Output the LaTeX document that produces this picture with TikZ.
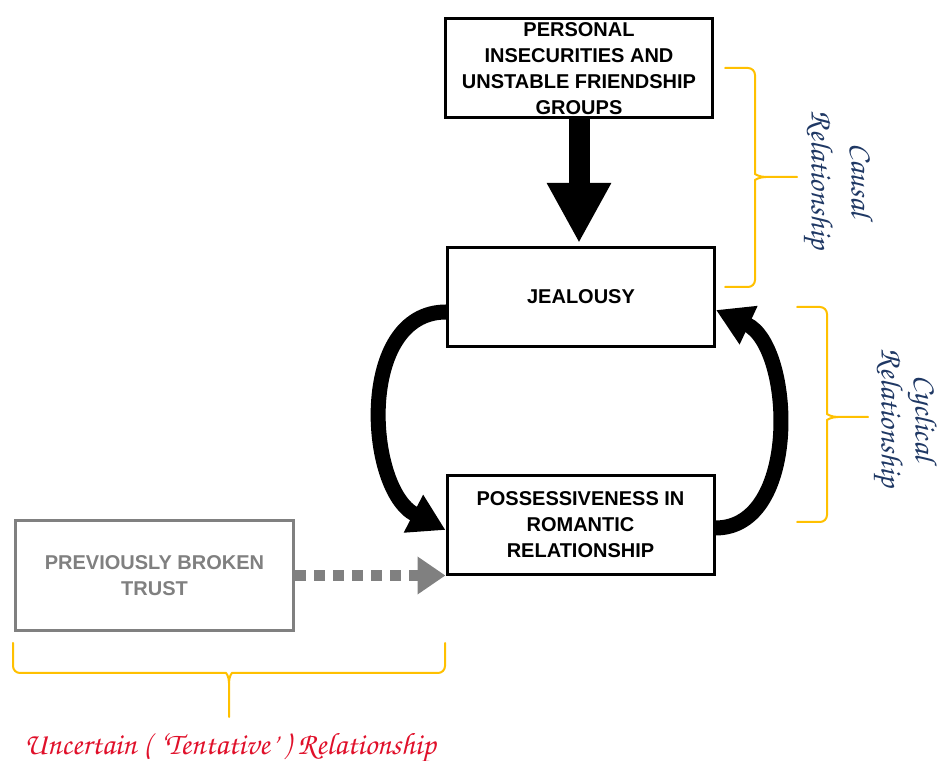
\documentclass[tikz,border=0pt]{standalone}
\usepackage[T1]{fontenc}
\usepackage{fontspec}
\setmainfont{Liberation Sans}
\usepackage{xcolor}
\usetikzlibrary{arrows.meta,positioning}
\definecolor{bracegold}{HTML}{FFC000}
\definecolor{labelblue}{HTML}{1F3864}
\definecolor{labelred}{HTML}{E0102A}
\definecolor{trustgray}{HTML}{808080}
\newcommand{\chancery}{\fontencoding{T1}\fontfamily{pzc}\fontseries{mb}\fontshape{it}\selectfont}
\tikzset{
	factor/.style={draw, line width=3pt, minimum width=267pt, minimum height=99pt,
			inner sep=0pt, align=center, font=\fontsize{20}{26}\selectfont\bfseries},
	uncertain/.style={factor, draw=trustgray, text=trustgray,
			minimum width=278pt, minimum height=110pt},
	causalarrow/.style={line width=21pt, shorten >=3pt, -{Triangle[width=60pt,length=60pt]}},
	cyclearrow/.style={line width=15pt, -{Triangle[width=40pt,length=36pt]}},
	tentarrow/.style={trustgray, line width=11pt, dash pattern=on 11pt off 8pt,
			-{Triangle[width=36pt,length=28pt]}},
	relbrace/.style={bracegold, line width=2pt, line cap=round},
	rellabel/.style={align=center, font=\chancery\fontsize{31}{40}\selectfont}
}

\begin{document}
\begin{tikzpicture}[x=1pt,y=1pt]
\useasboundingbox (0,0) rectangle (939,760);
% Boxes
\node[factor] (personal) at (579,691.5) {PERSONAL\\INSECURITIES AND\\UNSTABLE FRIENDSHIP\\GROUPS};
\node[factor] (jealousy) at (581,463) {JEALOUSY};
\node[factor] (possess) at (580.5,235) {POSSESSIVENESS IN\\ROMANTIC\\RELATIONSHIP};
\node[uncertain] (trust) at (154.5,184.5) {PREVIOUSLY BROKEN\\TRUST};
% Arrows
\draw[causalarrow] (personal.south) -- (personal.south |- jealousy.north);
\draw[cyclearrow] ([yshift=-15pt]jealousy.west) to[out=180,in=153,looseness=1.05] ([yshift=-5pt]possess.west);
\draw[cyclearrow] ([yshift=-3pt]possess.east) to[out=0,in=-25] ([yshift=-13pt]jealousy.east);
\draw[tentarrow] (trust) -- (trust -| possess.west);
% Braces
\draw[relbrace] (725,692) [rounded corners=7pt] -| (755,593) [sharp corners] .. controls (755,586) and (759,583) .. (766,583) -- (797,583);
\draw[relbrace] (725,473) [rounded corners=7pt] -| (755,573) [sharp corners] .. controls (755,580) and (759,583) .. (766,583);
\draw[relbrace] (797,453) [rounded corners=7pt] -| (827,353) [sharp corners] .. controls (827,346) and (831,343) .. (838,343) -- (868,343);
\draw[relbrace] (797,238) [rounded corners=7pt] -| (827,333) [sharp corners] .. controls (827,340) and (831,343) .. (838,343);
\draw[relbrace] (13,117) [rounded corners=7pt] |- (219,87) [sharp corners] .. controls (226,87) and (229,84) .. (229,77) -- (229,43);
\draw[relbrace] (445,117) [rounded corners=7pt] |- (239,87) [sharp corners] .. controls (232,87) and (229,84) .. (229,77);
% Labels
\node[rellabel, rotate=-90, text=labelblue] (causal) at (838,580) {Causal\\Relationship};
\node[rellabel, rotate=-90, text=labelblue, font=\chancery\fontsize{31}{34}\selectfont] (cyclical) at (905,342) {Cyclical\\Relationship};
\node[rellabel, anchor=base, text=labelred] (tentative) at (230,6) {Uncertain ( `Tentative' ) Relationship};
\end{tikzpicture}
\end{document}
